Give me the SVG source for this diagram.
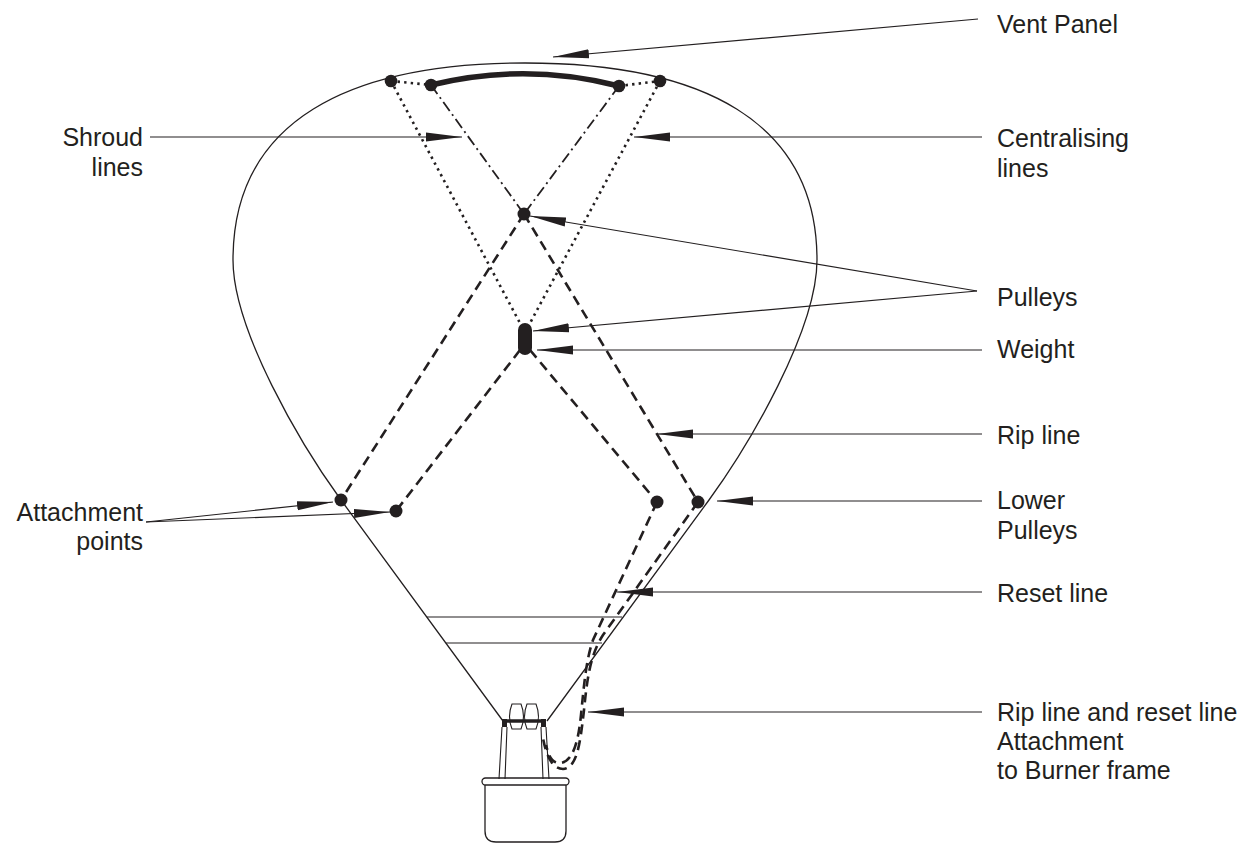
<svg xmlns="http://www.w3.org/2000/svg" width="1254" height="843" viewBox="0 0 1254 843">
  <defs>
    <marker id="arrow" viewBox="-36 -5 36 10" markerWidth="36" markerHeight="10" refX="0" refY="0" orient="auto" markerUnits="userSpaceOnUse">
      <path d="M-36,-4.5 L0,0 L-36,4.5 Z" fill="#231f20"/>
    </marker>
  </defs>
  <style>
    .outline { fill: none; stroke: #231f20; stroke-width: 1.3; }
    .thin { fill: none; stroke: #231f20; stroke-width: 1.1; }
    .dotted { fill: none; stroke: #231f20; stroke-width: 2.6; stroke-dasharray: 2.4 4.2; }
    .dashdot { fill: none; stroke: #231f20; stroke-width: 1.8; stroke-dasharray: 11 4 2 4; }
    .dashed { fill: none; stroke: #231f20; stroke-width: 2.6; stroke-dasharray: 10 6; }
    .dot { fill: #231f20; }
    .leader { fill: none; stroke: #231f20; stroke-width: 1.2; marker-end: url(#arrow); }
    .label { font-family: "Liberation Sans", Arial, sans-serif; font-size: 25px; fill: #231f20; }
    .left { text-anchor: end; }
  </style>

  <g id="envelope">
    <path class="outline" d="M503,721 L341,500 C301,445 233,330 233,260 C233,120 350,63 525,63 C700,63 817,120 817,260 C817,330 749,445 709,500 L547,721"/>
    <line class="thin" x1="427" y1="617" x2="622" y2="617"/>
    <line class="thin" x1="446" y1="643" x2="602" y2="643"/>
  </g>

  <g id="vent-panel">
    <path d="M431,85 Q525,62 619,86" fill="none" stroke="#231f20" stroke-width="5.5" stroke-linecap="round"/>
  </g>

  <g id="connectors">
    <!-- centralising lines -->
    <line class="dotted" x1="391" y1="81" x2="431" y2="85"/>
    <line class="dotted" x1="619" y1="86" x2="660" y2="81"/>
    <line class="dotted" x1="391" y1="81" x2="521" y2="325"/>
    <line class="dotted" x1="660" y1="81" x2="529" y2="325"/>
    <!-- shroud lines -->
    <line class="dashdot" x1="431" y1="85" x2="524" y2="214"/>
    <line class="dashdot" x1="619" y1="86" x2="524" y2="214"/>
    <!-- lines to attachment points -->
    <line class="dashed" x1="524" y1="214" x2="341" y2="500"/>
    <line class="dashed" x1="520" y1="350" x2="396" y2="511"/>
    <!-- rip line and reset line -->
    <line class="dashed" x1="524" y1="214" x2="698" y2="502"/>
    <line class="dashed" x1="530" y1="350" x2="657" y2="502"/>
    <path class="dashed" d="M698,502 L603,635 C590,655 587,680 584,710 C580,745 577,768 563,769 C552,769 546,755 543,738"/>
    <path class="dashed" d="M657,502 L593,640 C586,660 584,685 581,715 C578,745 572,762 560,763 C552,763 549,757 546,745"/>
  </g>

  <g id="dots">
    <circle class="dot" cx="391" cy="81" r="6.3"/>
    <circle class="dot" cx="431" cy="85" r="6.3"/>
    <circle class="dot" cx="619" cy="86" r="6.3"/>
    <circle class="dot" cx="660" cy="81" r="6.3"/>
    <circle class="dot" cx="524" cy="214" r="6.5"/>
    <circle class="dot" cx="341" cy="500" r="6.5"/>
    <circle class="dot" cx="396" cy="511" r="6.5"/>
    <circle class="dot" cx="657" cy="502" r="6.5"/>
    <circle class="dot" cx="698" cy="502" r="6.5"/>
  </g>

  <g id="weight">
    <rect x="518" y="323" width="14" height="32" rx="7" fill="#231f20"/>
  </g>

  <g id="burner">
    <path class="thin" d="M512,704 L521,704 Q526,716.5 521,729 L512,729 Q507,716.5 512,704 Z"/>
    <path class="thin" d="M527,704 L536,704 Q541,716.5 536,729 L527,729 Q522,716.5 527,704 Z"/>
    <line x1="503" y1="721" x2="546" y2="721" stroke="#231f20" stroke-width="3.5"/>
    <rect x="502" y="719" width="5" height="8" fill="#231f20"/>
    <rect x="541" y="719" width="5" height="8" fill="#231f20"/>
    <path class="thin" d="M502,727 L499,779 M507,727 L505,779"/>
    <path class="thin" d="M541,727 L543,779 M546,727 L549,779"/>
  </g>

  <g id="basket">
    <rect class="outline" x="482" y="778" width="87" height="7" rx="3.5"/>
    <path class="outline" d="M485,785 L485,831 Q485,842 496,842 L555,842 Q566,842 566,831 L566,785"/>
  </g>

  <g id="leaders">
    <line class="leader" x1="978" y1="19" x2="553" y2="57"/>
    <line class="leader" x1="150" y1="137" x2="462" y2="137"/>
    <line class="leader" x1="982" y1="137" x2="634" y2="137"/>
    <line class="leader" x1="977" y1="291" x2="530" y2="216"/>
    <line class="leader" x1="977" y1="291" x2="533" y2="331"/>
    <line class="leader" x1="982" y1="350" x2="537" y2="350"/>
    <line class="leader" x1="982" y1="434" x2="657" y2="434"/>
    <line class="leader" x1="982" y1="501" x2="717" y2="501"/>
    <line class="leader" x1="982" y1="592" x2="617" y2="592"/>
    <line class="leader" x1="982" y1="712" x2="588" y2="712"/>
    <line class="leader" x1="146" y1="522" x2="333" y2="502"/>
    <line class="leader" x1="146" y1="522" x2="390" y2="512"/>
  </g>

  <g id="labels">
    <text class="label" x="997" y="33">Vent Panel</text>
    <text class="label left" x="143" y="146">Shroud</text>
    <text class="label left" x="143" y="176">lines</text>
    <text class="label" x="997" y="147">Centralising</text>
    <text class="label" x="997" y="177">lines</text>
    <text class="label" x="997" y="306">Pulleys</text>
    <text class="label" x="997" y="358">Weight</text>
    <text class="label" x="997" y="444">Rip line</text>
    <text class="label" x="997" y="509">Lower</text>
    <text class="label" x="997" y="539">Pulleys</text>
    <text class="label" x="997" y="602">Reset line</text>
    <text class="label" x="997" y="721">Rip line and reset line</text>
    <text class="label" x="997" y="750">Attachment</text>
    <text class="label" x="997" y="779">to Burner frame</text>
    <text class="label left" x="143" y="521">Attachment</text>
    <text class="label left" x="143" y="550">points</text>
  </g>
</svg>
